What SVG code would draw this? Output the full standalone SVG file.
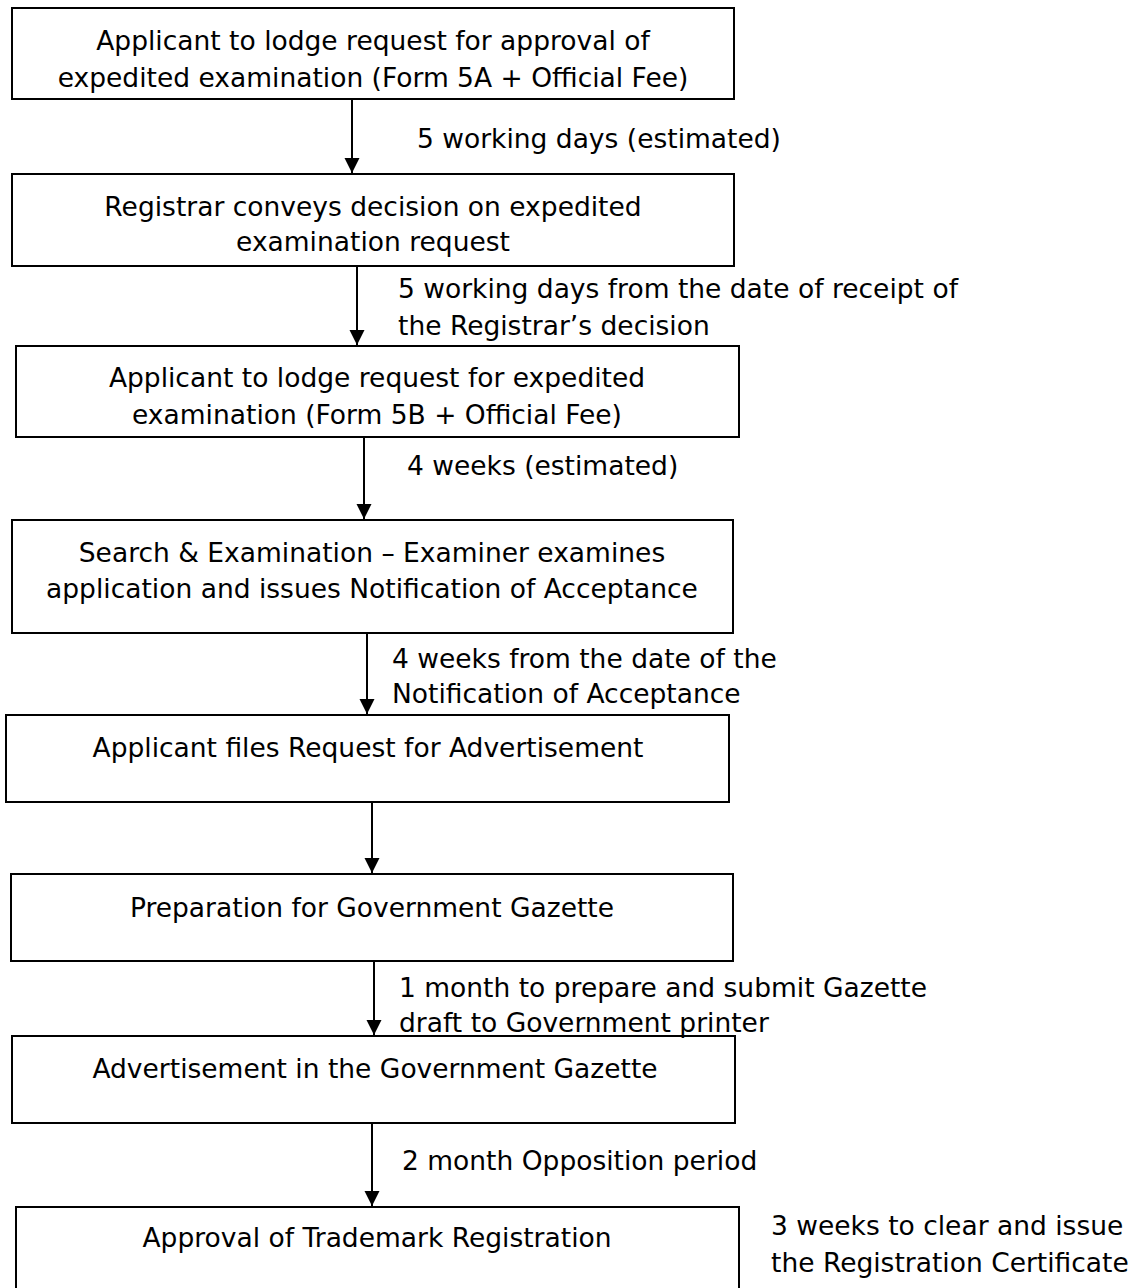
<svg xmlns="http://www.w3.org/2000/svg" width="1141" height="1288" viewBox="0 0 1141 1288">
  <style>
    .box { fill: #ffffff; stroke: #000000; stroke-width: 2; }
    .t { font-family: "DejaVu Sans", Verdana, sans-serif; font-size: 26.5px; fill: #000000; }
    .c { text-anchor: middle; }
    .conn { stroke: #000000; stroke-width: 2; fill: none; marker-end: url(#arrow); }
  </style>
  <defs>
    <marker id="arrow" markerUnits="userSpaceOnUse" markerWidth="16" markerHeight="16" refX="15" refY="7.5" orient="auto">
      <path d="M0,0 L15,7.5 L0,15 z" fill="#000000"/>
    </marker>
  </defs>
  <rect width="1141" height="1288" fill="#ffffff"/>

  <g id="connectors">
    <line class="conn" x1="352" y1="99" x2="352" y2="173"/>
    <line class="conn" x1="357" y1="266" x2="357" y2="345"/>
    <line class="conn" x1="364" y1="437" x2="364" y2="519"/>
    <line class="conn" x1="367" y1="633" x2="367" y2="714"/>
    <line class="conn" x1="372" y1="802" x2="372" y2="873"/>
    <line class="conn" x1="374" y1="961" x2="374" y2="1035"/>
    <line class="conn" x1="372" y1="1123" x2="372" y2="1206"/>
  </g>

  <g id="node1">
    <rect class="box" x="12" y="8" width="722" height="91"/>
    <text class="t c" x="373" y="50">Applicant to lodge request for approval of</text>
    <text class="t c" x="373" y="87">expedited examination (Form 5A + Official Fee)</text>
  </g>
  <g id="node2">
    <rect class="box" x="12" y="174" width="722" height="92"/>
    <text class="t c" x="373" y="216">Registrar conveys decision on expedited</text>
    <text class="t c" x="373" y="251">examination request</text>
  </g>
  <g id="node3">
    <rect class="box" x="16" y="346" width="723" height="91"/>
    <text class="t c" x="377" y="387">Applicant to lodge request for expedited</text>
    <text class="t c" x="377" y="424">examination (Form 5B + Official Fee)</text>
  </g>
  <g id="node4">
    <rect class="box" x="12" y="520" width="721" height="113"/>
    <text class="t c" x="372" y="562">Search &amp; Examination – Examiner examines</text>
    <text class="t c" x="372" y="598">application and issues Notification of Acceptance</text>
  </g>
  <g id="node5">
    <rect class="box" x="6" y="715" width="723" height="87"/>
    <text class="t c" x="368" y="757">Applicant files Request for Advertisement</text>
  </g>
  <g id="node6">
    <rect class="box" x="11" y="874" width="722" height="87"/>
    <text class="t c" x="372" y="917">Preparation for Government Gazette</text>
  </g>
  <g id="node7">
    <rect class="box" x="12" y="1036" width="723" height="87"/>
    <text class="t c" x="375" y="1078">Advertisement in the Government Gazette</text>
  </g>
  <g id="node8">
    <rect class="box" x="16" y="1207" width="723" height="100"/>
    <text class="t c" x="377" y="1247">Approval of Trademark Registration</text>
  </g>

  <g id="labels">
    <text class="t" x="417" y="148">5 working days (estimated)</text>
    <text class="t" x="398" y="298">5 working days from the date of receipt of</text>
    <text class="t" x="398" y="335">the Registrar’s decision</text>
    <text class="t" x="407" y="475">4 weeks (estimated)</text>
    <text class="t" x="392" y="668">4 weeks from the date of the</text>
    <text class="t" x="392" y="703">Notification of Acceptance</text>
    <text class="t" x="399" y="997">1 month to prepare and submit Gazette</text>
    <text class="t" x="399" y="1032">draft to Government printer</text>
    <text class="t" x="402" y="1170">2 month Opposition period</text>
    <text class="t" x="771" y="1235">3 weeks to clear and issue</text>
    <text class="t" x="771" y="1272">the Registration Certificate</text>
  </g>
</svg>
